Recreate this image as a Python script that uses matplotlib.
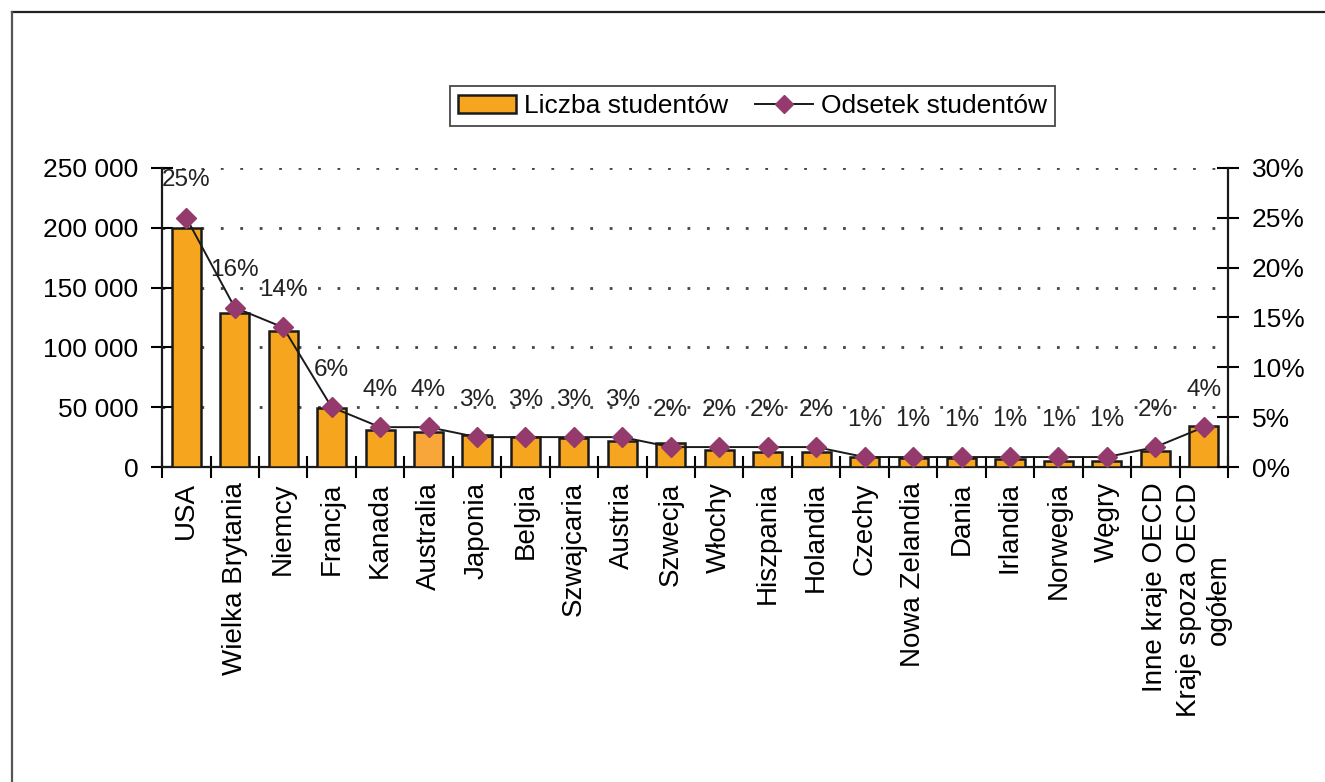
import numpy as np
import matplotlib.pyplot as plt
from matplotlib.patches import Patch
from matplotlib.lines import Line2D
from matplotlib.ticker import FuncFormatter, MultipleLocator

plt.rcParams['font.family'] = ['Liberation Sans', 'DejaVu Sans']

# countries hosting foreign students
kraje = ['USA', 'Wielka Brytania', 'Niemcy', 'Francja', 'Kanada', 'Australia',
         'Japonia', 'Belgia', 'Szwajcaria', 'Austria', 'Szwecja', 'Włochy',
         'Hiszpania', 'Holandia', 'Czechy', 'Nowa Zelandia', 'Dania', 'Irlandia',
         'Norwegia', 'Węgry', 'Inne kraje OECD', 'Kraje spoza OECD\nogółem']

# number of students
liczba = [200000, 129000, 114000, 49000, 31000, 29000, 27000, 25000, 24000,
          22000, 20000, 14500, 12500, 12500, 8500, 7500, 7500, 6700, 5000, 5000,
          13500, 34500]

# share of students (%)
odsetek = [25, 16, 14, 6, 4, 4, 3, 3, 3, 3, 2, 2, 2, 2, 1, 1, 1, 1, 1, 1, 2, 4]

bar_col = '#F6A51F'
line_col = '#943A6C'

fig = plt.figure(figsize=(13.25, 7.82), dpi=100)
ax = fig.add_axes([0.1223, 0.4028, 0.8045, 0.3824])
ax2 = ax.twinx()

x = np.arange(len(kraje))
colors = [bar_col] * len(kraje)
colors[5] = '#F8A63A'
ax.bar(x, liczba, width=0.6, color=colors, edgecolor='#1a1a1a', linewidth=1.8, zorder=3)

ax.set_xlim(-0.5, len(kraje) - 0.5)
ax.set_ylim(0, 250000)
ax.yaxis.set_major_locator(MultipleLocator(50000))
ax.yaxis.set_major_formatter(FuncFormatter(lambda v, p: f'{int(v):,}'.replace(',', ' ')))
ax.grid(axis='y', linestyle=(0, (1, 6)), linewidth=2, color='#444444', zorder=0)

ax.set_xticks(x)
ax.set_xticklabels(kraje, rotation=90, fontsize=20, multialignment='center')
ax.set_xticks(np.arange(len(kraje) + 1) - 0.5, minor=True)
ax.tick_params(axis='x', which='major', length=0, pad=11)
ax.tick_params(axis='x', which='minor', direction='inout', length=16, width=1.5)
ax.tick_params(axis='y', direction='inout', length=16, width=1.5, labelsize=19, pad=9)

# percent line on the secondary axis
ax2.plot(x, np.array(odsetek) / 100, color='#1a1a1a', linewidth=1.4, zorder=4)
ax2.plot(x, np.array(odsetek) / 100, linestyle='none', marker='D', markersize=10.5,
         color=line_col, zorder=5)
for xi, p in zip(x, odsetek):
    ax2.annotate(f'{p}%', (xi, p / 100), xytext=(0, 27), textcoords='offset points',
                 ha='center', va='center', fontsize=17.5, color='#222222')

ax2.set_ylim(0, 0.30)
ax2.yaxis.set_major_locator(MultipleLocator(0.05))
ax2.yaxis.set_major_formatter(FuncFormatter(lambda v, p: f'{v * 100:.0f}%'))
ax2.tick_params(axis='y', direction='inout', length=16, width=1.5, labelsize=19, pad=9)

for a in (ax, ax2):
    a.spines['top'].set_visible(False)
    for s in ('left', 'right', 'bottom'):
        a.spines[s].set_linewidth(1.6)
        a.spines[s].set_color('#1a1a1a')
ax.spines['right'].set_visible(False)
ax2.spines['left'].set_visible(False)
ax2.spines['bottom'].set_visible(False)

handles = [Patch(facecolor=bar_col, edgecolor='#1a1a1a', linewidth=1.8),
           Line2D([], [], color='#1a1a1a', linewidth=1.4, marker='D',
                  markersize=9, markerfacecolor=line_col, markeredgecolor=line_col)]
leg = fig.legend(handles, ['Liczba studentów', 'Odsetek studentów'],
                 loc='center', bbox_to_anchor=(0.568, 0.864), ncol=2,
                 fontsize=19, frameon=True, fancybox=False, edgecolor='#1a1a1a',
                 handlelength=2.2, handletextpad=0.3, columnspacing=1.0,
                 borderpad=0.3, borderaxespad=0)
leg.get_frame().set_linewidth(1.3)

# outer frame
fig.add_artist(Line2D([12 / 1325, 1], [1 - 12 / 782] * 2, transform=fig.transFigure,
                      color='#222222', linewidth=1.6))
fig.add_artist(Line2D([12 / 1325] * 2, [0, 1 - 12 / 782], transform=fig.transFigure,
                      color='#555555', linewidth=1.6))

fig.savefig('out.png', dpi=100)
